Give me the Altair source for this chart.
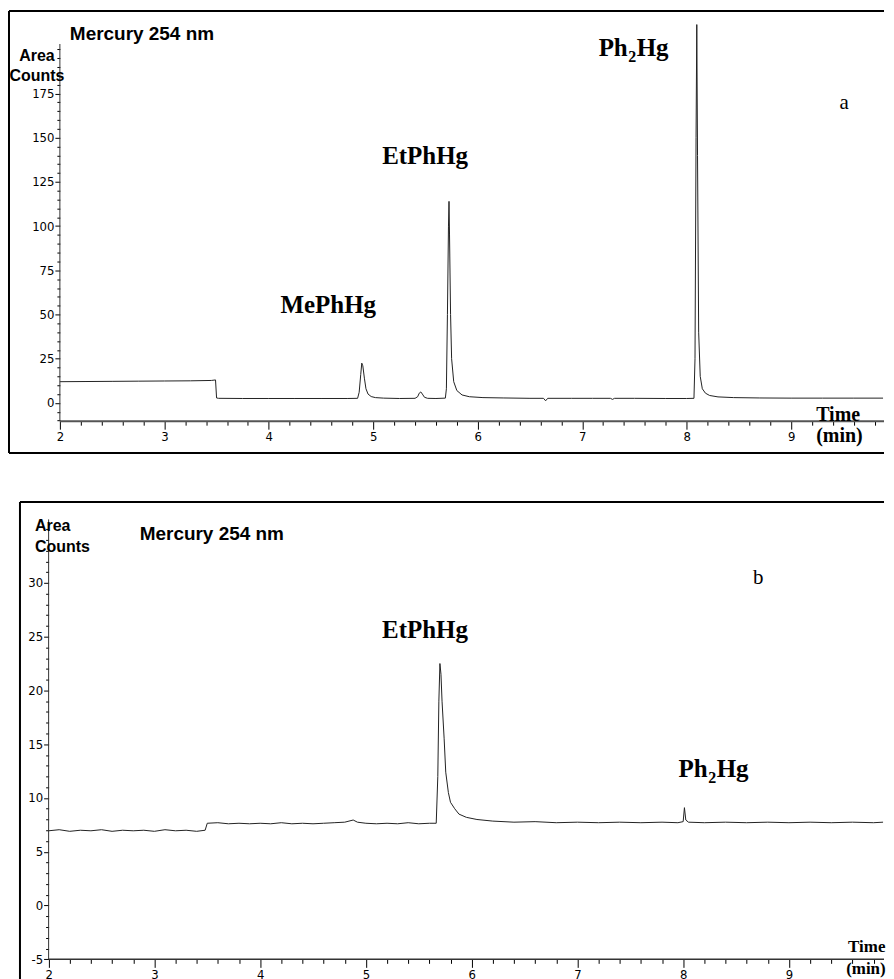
import altair as alt
import pandas as pd

# ---------------- data ----------------
# Panel a: chromatogram, Area Counts vs Time (min)
time_a = [2.00, 2.25, 2.50, 2.75, 3.00, 3.25, 3.45, 3.49, 3.50, 3.52,
          3.75, 4.00, 4.25, 4.50, 4.75, 4.85, 4.865, 4.88, 4.89, 4.90,
          4.915, 4.93, 4.95, 4.98, 5.02, 5.10, 5.25, 5.40, 5.425, 5.44,
          5.455, 5.47, 5.49, 5.52, 5.60, 5.69, 5.70, 5.71, 5.72, 5.725,
          5.73, 5.74, 5.75, 5.77, 5.80, 5.85, 5.92, 6.05, 6.25, 6.50,
          6.63, 6.65, 6.67, 6.90, 7.10, 7.27, 7.29, 7.31, 7.50, 7.80,
          8.00, 8.07, 8.08, 8.09, 8.097, 8.104, 8.115, 8.13, 8.15, 8.18,
          8.22, 8.30, 8.45, 8.70, 9.00, 9.30, 9.60, 9.88]
counts_a = [12.0, 12.1, 12.2, 12.3, 12.4, 12.5, 12.7, 13.0, 2.8, 2.6,
            2.5, 2.5, 2.5, 2.5, 2.5, 2.6, 6.0, 16.0, 22.5, 21.0,
            14.0, 8.0, 5.0, 3.6, 3.0, 2.7, 2.5, 2.6, 3.5, 5.5,
            6.2, 5.0, 3.2, 2.6, 2.5, 2.7, 8.0, 50.0, 100.0, 114.0,
            95.0, 50.0, 25.0, 12.0, 7.0, 4.5, 3.5, 3.0, 2.8, 2.6,
            2.6, 1.2, 2.6, 2.6, 2.6, 2.6, 2.0, 2.6, 2.6, 2.5,
            2.5, 2.6, 25.0, 150.0, 214.0, 140.0, 40.0, 15.0, 8.0, 5.5,
            4.2, 3.4, 3.0, 2.8, 2.7, 2.7, 2.7, 2.7]

# Panel b
time_b = [2.00, 2.10, 2.20, 2.30, 2.40, 2.50, 2.60, 2.70, 2.80, 2.90,
          3.00, 3.10, 3.20, 3.30, 3.40, 3.48, 3.50, 3.60, 3.70, 3.80,
          3.90, 4.00, 4.10, 4.20, 4.30, 4.40, 4.50, 4.60, 4.70, 4.80,
          4.88, 4.92, 5.00, 5.10, 5.20, 5.30, 5.40, 5.50, 5.60, 5.665,
          5.68, 5.69, 5.70, 5.71, 5.72, 5.74, 5.755, 5.78, 5.80, 5.84,
          5.88, 5.95, 6.05, 6.20, 6.40, 6.60, 6.80, 7.00, 7.20, 7.40,
          7.60, 7.80, 7.95, 8.00, 8.012, 8.025, 8.05, 8.20, 8.40, 8.60,
          8.80, 9.00, 9.20, 9.40, 9.60, 9.80, 9.89]
counts_b = [6.95, 7.05, 6.90, 7.00, 6.95, 7.05, 6.90, 7.00, 6.95, 7.00,
            6.90, 7.05, 6.95, 7.00, 6.90, 7.00, 7.65, 7.70, 7.60, 7.65,
            7.60, 7.65, 7.60, 7.70, 7.60, 7.65, 7.60, 7.65, 7.70, 7.75,
            7.95, 7.75, 7.65, 7.60, 7.65, 7.60, 7.70, 7.60, 7.65, 7.65,
            12.0, 19.0, 22.5, 21.5, 19.0, 15.5, 12.4, 10.5, 9.6, 9.0,
            8.5, 8.2, 8.0, 7.85, 7.75, 7.80, 7.70, 7.75, 7.70, 7.75,
            7.70, 7.75, 7.70, 7.80, 9.10, 7.95, 7.75, 7.70, 7.75, 7.70,
            7.75, 7.70, 7.75, 7.70, 7.75, 7.70, 7.75]

# tick values
x_major = [2, 3, 4, 5, 6, 7, 8, 9]
x_minor = [2.2, 2.4, 2.6, 2.8, 3.2, 3.4, 3.6, 3.8, 4.2, 4.4, 4.6, 4.8,
           5.2, 5.4, 5.6, 5.8, 6.2, 6.4, 6.6, 6.8, 7.2, 7.4, 7.6, 7.8,
           8.2, 8.4, 8.6, 8.8, 9.2, 9.4, 9.6, 9.8]
ya_major = [0, 25, 50, 75, 100, 125, 150, 175]
ya_minor = [-10, -5, 5, 10, 15, 20, 30, 35, 40, 45, 55, 60, 65, 70, 80, 85,
            90, 95, 105, 110, 115, 120, 130, 135, 140, 145, 155, 160, 165,
            170, 180, 185, 190, 195, 200]
yb_major = [-5, 0, 5, 10, 15, 20, 25, 30]
yb_minor = [-4, -3, -2, -1, 1, 2, 3, 4, 6, 7, 8, 9, 11, 12, 13, 14, 16, 17,
            18, 19, 21, 22, 23, 24, 26, 27, 28, 29, 31, 32, 33, 34, 35]

# annotation texts (positions in data units)
peak_a_text = ["MePhHg", "EtPhHg"]
peak_a_t = [4.569, 5.496]
peak_a_v = [50.6, 135.2]
peak_b_text = ["EtPhHg"]
peak_b_t = [5.559]
peak_b_v = [24.9]

# ---------------- layout ----------------
SANS = "Liberation Sans"
NARROW = "Liberation Sans Narrow, DejaVu Sans Condensed, Liberation Sans, sans-serif"
SERIF = "Liberation Serif"

WA, HA = 877, 443
xa_dom = [1.5129, 9.8892]
ya_dom = [-28.39, 221.61]
WB, HB = 866, 488
xb_dom = [1.7292, 9.8990]
yb_dom = [-7.75, 37.52]

major_x_test = "abs(datum.value - round(datum.value)) < 0.001"


def make_axis(orient, offset, values, test, major_size, minor_size):
    return alt.Axis(
        orient=orient, offset=offset, values=values, title=None,
        domain=False, grid=False,
        labelExpr=f"({test}) ? replace(format(datum.value, 'd'), '\u2212', '-') : ''",
        tickSize={"condition": {"test": test, "value": major_size}, "value": minor_size},
        labelFont=NARROW, labelFontSize=13, labelColor="black",
        labelPadding=1, labelFlush=False, labelOverlap=False, labelBound=False,
        tickColor="black", tickWidth=1,
    )


def panel(time, counts, xdom, ydom, w, h, xoff, yoff, yvals, ytest,
          xaxis_v, yaxis_top, texts, frame_bottom, xline_color, xline_width):
    xs = alt.Scale(domain=xdom, nice=False, zero=False)
    ys = alt.Scale(domain=ydom, nice=False, zero=False)
    xax = make_axis("bottom", xoff, sorted(x_major + x_minor), major_x_test, 8, 4)
    yax = make_axis("left", yoff, yvals, ytest, 5, 3)
    X = alt.X("t:Q", scale=xs, axis=xax)
    Y = alt.Y("v:Q", scale=ys, axis=yax)

    df = pd.DataFrame({"t": time, "v": counts})
    line = alt.Chart(df).mark_line(color="#222", strokeWidth=1).encode(x=X, y=Y)

    layers = [line]
    # axis lines
    layers.append(alt.Chart(pd.DataFrame({"t": [2.0], "t2": [xdom[1]], "v": [xaxis_v]}))
                  .mark_rule(color=xline_color, strokeWidth=xline_width)
                  .encode(x=X, x2="t2:Q", y=Y))
    layers.append(alt.Chart(pd.DataFrame({"t": [2.0], "v": [xaxis_v], "v2": [yaxis_top]}))
                  .mark_rule(color="#333", strokeWidth=1).encode(x=X, y=Y, y2="v2:Q"))
    # frame lines (top, left, optional bottom)
    fr_t = [xdom[0], xdom[0]]
    fr_t2 = [xdom[1], xdom[0]]
    fr_v = [ydom[1], ydom[0]]
    fr_v2 = [ydom[1], ydom[1]]
    if frame_bottom:
        fr_t += [xdom[0]]
        fr_t2 += [xdom[1]]
        fr_v += [ydom[0]]
        fr_v2 += [ydom[0]]
    layers.append(alt.Chart(pd.DataFrame({"t": fr_t, "t2": fr_t2, "v": fr_v, "v2": fr_v2}))
                  .mark_rule(color="black", strokeWidth=2)
                  .encode(x=X, x2="t2:Q", y=Y, y2="v2:Q"))
    for df_t, style in texts:
        layers.append(alt.Chart(df_t).mark_text(color="black", baseline="alphabetic", **style)
                      .encode(x=X, y=Y, text="s:N"))
    return alt.layer(*layers).properties(width=w, height=h)


peak_style = dict(font=SERIF, fontWeight="bold", fontSize=25, align="center")
title_style = dict(font=SANS, fontWeight="bold", fontSize=19, align="left")
area_style = dict(font=SANS, fontWeight="bold", fontSize=16)
time_style = dict(font=SERIF, fontWeight="bold", fontSize=20, align="left")
letter_style = dict(font=SERIF, fontSize=21, align="center")

pa_t, pa_v = 7.479, 196.2
pb_t, pb_v = 8.274, 11.92

texts_a = [
    (pd.DataFrame({"t": peak_a_t, "v": peak_a_v, "s": peak_a_text}), peak_style),
    (pd.DataFrame({"t": [pa_t], "v": [pa_v], "s": ["Ph"]}), dict(peak_style, align="right", dx=-4.5)),
    (pd.DataFrame({"t": [pa_t], "v": [pa_v], "s": ["2"]}), dict(peak_style, fontSize=16, dy=6)),
    (pd.DataFrame({"t": [pa_t], "v": [pa_v], "s": ["Hg"]}), dict(peak_style, align="left", dx=4.5)),
    (pd.DataFrame({"t": [2.0955], "v": [205.2], "s": ["Mercury 254 nm"]}), title_style),
    (pd.DataFrame({"t": [1.7803, 1.7803], "v": [193.4, 182.1], "s": ["Area", "Counts"]}),
     dict(area_style, align="center")),
    (pd.DataFrame({"t": [9.2397, 9.2397], "v": [-10.33, -22.18], "s": ["Time", "(min)"]}), time_style),
    (pd.DataFrame({"t": [9.507], "v": [166.3], "s": ["a"]}), letter_style),
]

texts_b = [
    (pd.DataFrame({"t": peak_b_t, "v": peak_b_v, "s": peak_b_text}), peak_style),
    (pd.DataFrame({"t": [pb_t], "v": [pb_v], "s": ["Ph"]}), dict(peak_style, align="right", dx=-4.5)),
    (pd.DataFrame({"t": [pb_t], "v": [pb_v], "s": ["2"]}), dict(peak_style, fontSize=16, dy=6)),
    (pd.DataFrame({"t": [pb_t], "v": [pb_v], "s": ["Hg"]}), dict(peak_style, align="left", dx=4.5)),
    (pd.DataFrame({"t": [2.8613], "v": [34.0], "s": ["Mercury 254 nm"]}), title_style),
    (pd.DataFrame({"t": [1.8708, 1.8708], "v": [34.83, 32.88], "s": ["Area", "Counts"]}),
     dict(area_style, align="left")),
    (pd.DataFrame({"t": [9.559, 9.541], "v": [-4.31, -6.35], "s": ["Time", "(min)"]}),
     dict(time_style, fontSize=17)),
    (pd.DataFrame({"t": [8.71], "v": [29.9], "s": ["b"]}), letter_style),
]

panel_a = panel(time_a, counts_a, xa_dom, ya_dom, WA, HA, -32, -51,
                sorted(ya_major + ya_minor),
                "datum.value % 25 === 0 && datum.value <= 175",
                -10.33, 203.0, texts_a, True, "#555", 2)
panel_b = panel(time_b, counts_b, xb_dom, yb_dom, WB, HB, -29.6, -28.7,
                sorted(yb_major + yb_minor),
                "datum.value % 5 === 0 && datum.value <= 30",
                -5.0, 35.9, texts_b, False, "#333", 1.5)

spacer = alt.Chart(pd.DataFrame({"t": [0]})).mark_point(opacity=0).encode(
    x=alt.X("t:Q", axis=None), y=alt.Y("t:Q", axis=None)
).properties(width=10, height=10)

chart = alt.vconcat(
    panel_a,
    alt.hconcat(spacer, panel_b, spacing=0),
    spacing=47,
).properties(
    padding={"left": 0, "top": 1, "right": 0, "bottom": 0},
).configure(background="white").configure_view(strokeWidth=0, strokeOpacity=0)

chart.save("out.html", embed_options={"renderer": "svg", "actions": False})
